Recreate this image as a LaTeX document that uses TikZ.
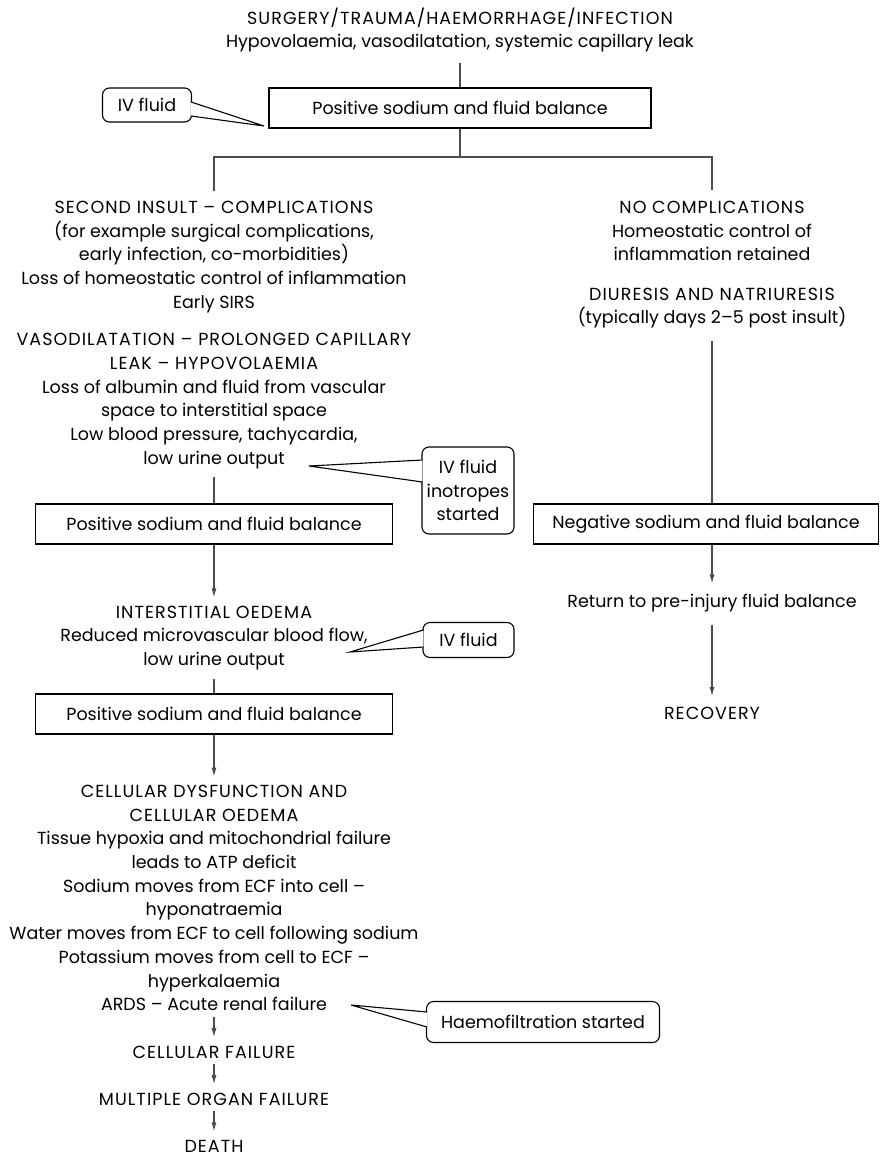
\documentclass[tikz,border=0pt]{standalone}
\usepackage{fontspec}
\setmainfont{Poppins}
\newfontfamily\capsfont{Poppins}[LetterSpace=6]
\usetikzlibrary{arrows.meta,positioning}
\newcommand{\chartfont}{\fontsize{17.5}{23.7}\selectfont}

\begin{document}
\begin{tikzpicture}[x=1pt, y=-1pt, font=\chartfont, line width=1.1pt,
  every node/.style={align=center, inner sep=0pt},
  balance/.style={rectangle, draw, minimum height=40pt},
  bubble/.style={rectangle, draw, rounded corners=7pt, fill=white},
  link/.style={draw=black!70},
  flow/.style={draw=black!70, -{Latex[length=9pt,width=5pt]}}]
\useasboundingbox (0,0) rectangle (880,1156);

\node (hdr) at (460,30) {{\capsfont SURGERY/TRAUMA/HAEMORRHAGE/INFECTION}\\Hypovolaemia, vasodilatation, systemic capillary leak};
\node [balance, minimum width=382pt] (topbox) at (460,108) {Positive sodium and fluid balance};
\node [bubble, minimum width=89pt, minimum height=34pt] (fluidA) at (147,105) {IV fluid};
\coordinate (tipA) at (264,126);

\node (insult) at (214,257) {{\capsfont SECOND INSULT – COMPLICATIONS}\\(for example surgical complications,\\early infection, co-morbidities)\\Loss of homeostatic control of inflammation\\Early SIRS};
\node (nocomp) at (712,231) {{\capsfont NO COMPLICATIONS}\\Homeostatic control of\\inflammation retained};
\node (diuresis) at (712,308) {{\capsfont DIURESIS AND NATRIURESIS}\\(typically days 2–5 post insult)};

\node (leak) at (214,401) {{\capsfont VASODILATATION – PROLONGED CAPILLARY}\\{\capsfont LEAK – HYPOVOLAEMIA}\\Loss of albumin and fluid from vascular\\space to interstitial space\\Low blood pressure, tachycardia,\\low urine output};
\node [balance, minimum width=357pt] (posB) at (214,524) {Positive sodium and fluid balance};
\node [balance, minimum width=345pt] (negbal) at (706,524) {Negative sodium and fluid balance};
\node [bubble, minimum width=92pt, minimum height=87pt] (fluidB) at (468,490.5) {IV fluid\\inotropes\\started};
\coordinate (tipB) at (309,466);

\node (oedema) at (214,638) {{\capsfont INTERSTITIAL OEDEMA}\\Reduced microvascular blood flow,\\low urine output};
\node [bubble, minimum width=91pt, minimum height=35pt] (fluidC) at (468.5,640) {IV fluid};
\coordinate (tipC) at (350,652);
\node [balance, minimum width=357pt] (posC) at (214,714) {Positive sodium and fluid balance};
\node (retbal) at (712,603) {Return to pre-injury fluid balance};
\node (recovery) at (712,713) {\capsfont RECOVERY};

\node (cellular) at (214,898) {{\capsfont CELLULAR DYSFUNCTION AND}\\{\capsfont CELLULAR OEDEMA}\\Tissue hypoxia and mitochondrial failure\\leads to ATP deficit\\Sodium moves from ECF into cell –\\hyponatraemia\\Water moves from ECF to cell following sodium\\Potassium moves from cell to ECF –\\hyperkalaemia\\ARDS – Acute renal failure};
\node [bubble, minimum width=233pt, minimum height=41pt] (haemo) at (543,1022) {Haemofiltration started};
\coordinate (tipD) at (351,1005);
\node (cellfail) at (214,1052) {\capsfont CELLULAR FAILURE};
\node (organ) at (214,1099) {\capsfont MULTIPLE ORGAN FAILURE};
\node (death) at (214,1146) {\capsfont DEATH};

\coordinate (split) at (460,157);
\draw [link, shorten <=10pt] (hdr) -- (topbox);
\draw [link] (topbox) -- (split);
\draw [link, shorten >=10pt] (split) -| (insult.north);
\draw [link, shorten >=10pt] (split) -| (nocomp.north);
\draw [link, shorten <=12pt] (diuresis) -- (diuresis |- negbal.north);
\draw [link, shorten <=8pt] (leak) -- (posB);
\draw [flow, shorten >=8pt] (posB) -- (oedema);
\draw [link, shorten <=8pt] (oedema) -- (posC);
\draw [flow, shorten >=8pt] (posC) -- (cellular);
\draw [flow, shorten <=6pt, shorten >=8pt] (cellular) -- (cellfail);
\draw [flow, shorten <=5pt, shorten >=8pt] (cellfail) -- (organ);
\draw [flow, shorten <=5pt, shorten >=8pt] (organ) -- (death);
\draw [flow, shorten >=10pt] (negbal.south -| retbal) -- (retbal);
\draw [flow, shorten <=12pt, shorten >=10pt] (retbal) -- (recovery);

\draw [fill=white] ([xshift=-1pt,yshift=3pt]fluidA.east) -- (tipA) -- ([xshift=-1pt,yshift=-11pt]fluidA.east);
\draw [fill=white] ([xshift=1pt,yshift=30.5pt]fluidB.west) -- (tipB) -- ([xshift=1pt,yshift=8.5pt]fluidB.west);
\draw [fill=white] ([xshift=1pt,yshift=10pt]fluidC.west) -- (tipC) -- ([xshift=1pt,yshift=-7pt]fluidC.west);
\draw [fill=white] ([xshift=1pt,yshift=10pt]haemo.west) -- (tipD) -- ([xshift=1pt,yshift=-5pt]haemo.west);
\end{tikzpicture}
\end{document}
